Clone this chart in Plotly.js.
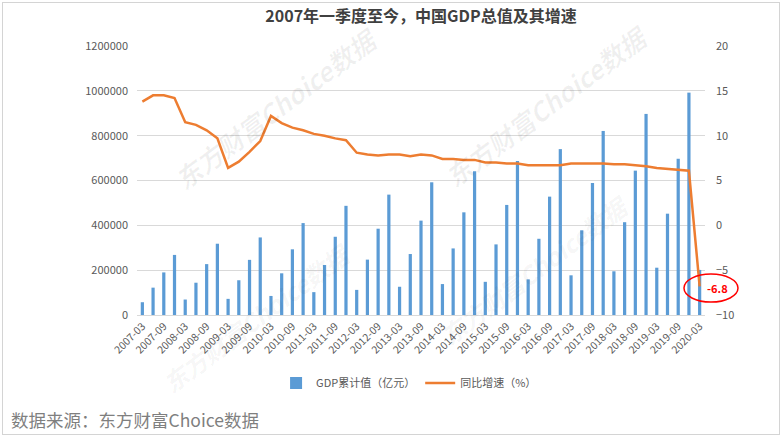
<!DOCTYPE html>
<html>
<head>
<meta charset="utf-8">
<script src="https://cdn.plot.ly/plotly-3.0.1.min.js"></script>
<style>
  html, body { margin: 0; padding: 0; background: #fff; }
  #chart { width: 782px; height: 437px; }
  #frame { position: absolute; left: 2px; top: 2px; width: 776px; height: 431px; border: 1px solid #d4d4d4; pointer-events: none; }
</style>
</head>
<body>
<div id="chart"></div>
<div id="frame"></div>
<script>
const categories = [
  "2007-03","2007-06","2007-09","2007-12",
  "2008-03","2008-06","2008-09","2008-12",
  "2009-03","2009-06","2009-09","2009-12",
  "2010-03","2010-06","2010-09","2010-12",
  "2011-03","2011-06","2011-09","2011-12",
  "2012-03","2012-06","2012-09","2012-12",
  "2013-03","2013-06","2013-09","2013-12",
  "2014-03","2014-06","2014-09","2014-12",
  "2015-03","2015-06","2015-09","2015-12",
  "2016-03","2016-06","2016-09","2016-12",
  "2017-03","2017-06","2017-09","2017-12",
  "2018-03","2018-06","2018-09","2018-12",
  "2019-03","2019-06","2019-09","2019-12",
  "2020-03"
];
const gdpCumulative = [
  57000, 122000, 190000, 268000,
  69000, 144000, 227000, 318000,
  72000, 155000, 246000, 346000,
  85000, 186000, 293000, 410000,
  102000, 223000, 349000, 487000,
  112000, 247000, 385000, 537000,
  126000, 272000, 421000, 592000,
  138000, 297000, 458000, 641000,
  148000, 315000, 491000, 687000,
  159000, 340000, 528000, 740000,
  177000, 378000, 589000, 821000,
  195000, 414000, 644000, 897000,
  211000, 452000, 697000, 992000,
  201000
];
const yoyGrowth = [
  13.8, 14.5, 14.5, 14.2,
  11.5, 11.2, 10.6, 9.7,
  6.4, 7.1, 8.2, 9.4,
  12.2, 11.4, 10.9, 10.6,
  10.2, 10.0, 9.7, 9.5,
  8.1, 7.9, 7.8, 7.9,
  7.9, 7.7, 7.9, 7.8,
  7.4, 7.4, 7.3, 7.3,
  7.0, 7.0, 6.9, 6.9,
  6.7, 6.7, 6.7, 6.7,
  6.9, 6.9, 6.9, 6.9,
  6.8, 6.8, 6.7, 6.6,
  6.4, 6.3, 6.2, 6.1,
  -6.8
];
const tickLabels = categories.filter((c, i) => i % 2 === 0);
const leftTicks = [0, 200000, 400000, 600000, 800000, 1000000, 1200000];
const rightTicks = [-10, -5, 0, 5, 10, 15, 20];
const chartTitle = "2007年一季度至今，中国GDP总值及其增速";
const seriesNames = ["GDP累计值（亿元）", "同比增速（%）"];
const sourceText = "数据来源：东方财富Choice数据";
const watermark = "东方财富Choice数据";
const highlightLabel = "-6.8";

const font = "'Noto Sans CJK SC', 'Noto Sans', sans-serif";

const traces = [
  {
    type: "bar", name: seriesNames[0], x: categories, y: gdpCumulative,
    marker: { color: "#5B9BD5" }, yaxis: "y"
  },
  {
    type: "scatter", mode: "lines", name: seriesNames[1], x: categories, y: yoyGrowth,
    line: { color: "#ED7D31", width: 2.5 }, yaxis: "y2"
  }
];

function wm(x, y, size, alpha) {
  return {
    text: "<b><i>" + watermark + "</i></b>", xref: "paper", yref: "paper", x: x, y: y,
    xanchor: "center", yanchor: "middle",
    showarrow: false, textangle: -37, font: { size: size, color: "rgba(0,0,0," + alpha + ")", family: font }
  };
}

const layout = {
  width: 782, height: 437,
  margin: { l: 137, r: 77, t: 46, b: 122 },
  paper_bgcolor: "#ffffff", plot_bgcolor: "#ffffff",
  font: { family: font, color: "#595959", size: 11 },
  bargap: 0.7,
  showlegend: true,
  title: {
    text: "<b>" + chartTitle + "</b>",
    font: { family: font, size: 16, color: "#404040" },
    x: 0.5, xanchor: "center", xref: "paper", y: 0.962, yref: "container", yanchor: "middle"
  },
  xaxis: {
    type: "category", tickmode: "array", tickvals: tickLabels, ticktext: tickLabels,
    tickangle: -45, tickfont: { size: 10.5, color: "#595959" },
    showgrid: false, showline: true, linecolor: "#d9d9d9", linewidth: 1,
    ticks: "", zeroline: false, range: [-0.5, 52.5]
  },
  yaxis: {
    range: [0, 1200000], tickvals: leftTicks, ticktext: leftTicks.map(String),
    showgrid: true, gridcolor: "#d9d9d9", gridwidth: 1, zeroline: false,
    showline: false, ticks: "", tickfont: { size: 11, color: "#595959" },
    ticklabelstandoff: 8
  },
  yaxis2: {
    overlaying: "y", side: "right", range: [-10, 20], tickvals: rightTicks,
    showgrid: false, zeroline: false, showline: false, ticks: "",
    tickfont: { size: 11, color: "#595959" }, ticklabelstandoff: 10
  },
  legend: {
    orientation: "h", x: 0.479, xanchor: "center", y: -0.253, yanchor: "middle",
    font: { size: 11, color: "#595959" }, itemwidth: 30, bgcolor: "rgba(0,0,0,0)"
  },
  shapes: [
    {
      type: "circle", xref: "paper", yref: "paper",
      x0: 0.9630, x1: 1.0581, y0: 0.048, y1: 0.152,
      line: { color: "#FF0000", width: 1.5 }
    }
  ],
  annotations: [
    {
      text: "<b>" + highlightLabel + "</b>", x: categories[52], y: yoyGrowth[52],
      xref: "x", yref: "y2", xshift: 18, yshift: -2, showarrow: false,
      font: { size: 11, color: "#FF0000", family: font }
    },
    {
      text: sourceText, xref: "paper", yref: "paper", x: -0.225, y: -0.39,
      xanchor: "left", yanchor: "middle", showarrow: false,
      font: { size: 17.5, color: "#7f7f7f", family: font }
    },
    wm(0.245, 0.77, 26, 0.06),
    wm(0.72, 0.78, 26, 0.06),
    wm(0.21, -0.01, 24, 0.05),
    wm(0.70, 0.17, 24, 0.05)
  ]
};

Plotly.newPlot("chart", traces, layout, { displayModeBar: false, staticPlot: true });
</script>
</body>
</html>
